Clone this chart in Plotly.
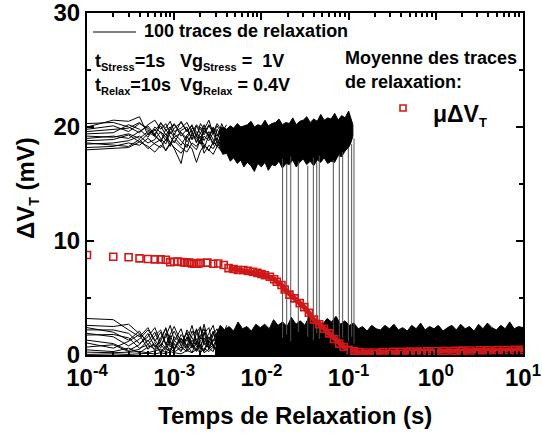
import plotly.graph_objects as go

# ---------------- data ----------------
dt = 1e-4  # sampling period (s)
# early, sparse sample indices of the individual traces: t = n * dt
n_early = [1, 2, 3, 4, 5, 6, 7, 8, 9, 10, 12, 14, 16, 18, 20, 22, 25, 28, 31, 35, 40]

# traces that start in the charged state (~19 mV), values in mV
upper_traces = [
    [19.8, 20.1, 19.6, 20.3, 19.9, 19.2, 20.4, 19.7, 20.0, 19.3, 20.5, 19.6, 20.2, 19.1, 20.3, 19.8, 20.6, 19.4, 20.1, 19.5, 20.2],
    [19.4, 19.5, 20.2, 19.8, 19.1, 20.0, 19.5, 18.8, 19.9, 20.3, 19.2, 19.8, 18.9, 20.1, 19.4, 20.2, 19.0, 19.9, 18.8, 20.3, 19.3],
    [19.0, 19.2, 19.0, 19.6, 20.1, 19.3, 18.7, 19.8, 19.2, 18.6, 19.7, 20.0, 18.9, 19.3, 18.5, 19.9, 19.3, 18.4, 19.8, 19.1, 18.7],
    [18.8, 18.9, 19.3, 18.7, 19.4, 19.8, 19.0, 18.5, 19.6, 19.1, 18.4, 19.3, 19.7, 18.6, 19.5, 18.8, 19.6, 18.9, 18.3, 19.4, 19.0],
    [18.5, 18.6, 18.8, 19.2, 18.6, 18.9, 19.6, 19.1, 18.3, 19.4, 18.8, 18.2, 19.5, 18.7, 19.2, 18.1, 19.3, 18.6, 19.0, 18.2, 19.1],
    [20.3, 20.4, 20.0, 19.5, 20.2, 20.6, 19.8, 20.3, 19.4, 19.9, 20.4, 19.6, 20.1, 19.3, 20.0, 19.5, 20.2, 19.7, 19.2, 20.0, 19.6],
    [19.6, 19.8, 19.9, 20.4, 19.7, 19.4, 20.1, 19.3, 19.8, 20.2, 19.5, 19.0, 19.9, 19.6, 18.9, 19.7, 19.2, 20.0, 19.4, 18.8, 19.6],
    [18.2, 18.3, 18.6, 18.4, 19.0, 18.5, 18.2, 18.9, 18.7, 18.1, 16.8, 19.2, 18.4, 18.0, 18.9, 18.5, 17.9, 18.7, 18.3, 18.8, 18.1],
    [20.0, 20.6, 20.5, 20.9, 19.3, 19.7, 20.3, 19.9, 20.5, 19.6, 19.9, 20.4, 19.5, 20.2, 19.8, 19.3, 20.1, 19.5, 20.3, 19.7, 19.2],
    [18.0, 18.1, 18.2, 18.7, 18.3, 17.8, 18.4, 18.0, 18.6, 18.2, 17.7, 18.5, 18.1, 16.9, 17.9, 18.4, 18.0, 17.6, 18.3, 17.9, 18.5],
    [19.2, 19.1, 19.4, 19.0, 19.6, 19.2, 18.8, 19.4, 18.6, 19.1, 19.5, 18.7, 19.3, 19.0, 18.5, 19.2, 18.8, 19.5, 18.6, 19.3, 18.9],
    [18.6, 18.4, 18.3, 18.9, 18.1, 18.6, 18.9, 17.9, 18.5, 18.8, 18.2, 17.8, 18.6, 18.3, 18.9, 17.7, 18.4, 18.1, 18.7, 17.8, 18.3],
]

# traces that start (nearly) relaxed, values in mV
lower_traces = [
    [3.2, 3.1, 2.2, 1.6, 2.4, 1.2, 2.0, 0.9, 1.8, 2.5, 1.1, 1.9, 0.7, 2.3, 1.4, 2.7, 1.0, 2.1, 0.6, 1.8, 2.4],
    [2.6, 2.5, 2.7, 1.9, 1.2, 2.0, 0.8, 1.6, 2.6, 1.3, 0.6, 2.2, 1.5, 0.9, 2.4, 1.1, 1.9, 2.6, 1.2, 0.8, 1.7],
    [2.4, 2.0, 1.3, 2.1, 0.9, 0.5, 1.5, 2.3, 1.0, 0.4, 1.8, 1.2, 2.6, 1.0, 0.5, 1.9, 2.4, 0.7, 1.6, 2.2, 1.0],
    [2.2, 2.2, 1.9, 1.0, 1.6, 2.4, 1.1, 0.6, 1.4, 2.1, 0.8, 1.5, 0.6, 1.9, 2.5, 0.9, 1.3, 2.0, 0.9, 1.4, 2.6],
    [1.9, 1.6, 0.8, 1.4, 2.2, 1.3, 0.6, 1.9, 0.7, 1.2, 2.3, 0.6, 1.7, 2.2, 0.8, 1.5, 0.6, 1.8, 2.3, 0.7, 1.2],
    [1.75, 1.8, 1.5, 0.6, 0.9, 1.7, 2.2, 1.0, 0.3, 1.6, 1.0, 2.0, 0.9, 0.4, 1.7, 2.3, 0.8, 1.2, 2.0, 1.5, 0.5],
    [1.3, 1.0, 0.4, 0.9, 1.9, 0.7, 1.2, 2.4, 1.3, 0.5, 1.4, 0.8, 2.1, 1.3, 0.7, 0.4, 1.6, 0.9, 0.5, 1.9, 1.3],
    [1.05, 0.6, 1.2, 1.8, 0.5, 1.1, 0.3, 0.8, 1.7, 0.9, 0.3, 1.6, 1.0, 0.5, 1.2, 2.0, 0.5, 1.4, 1.1, 0.4, 1.6],
    [0.7, 0.9, 0.3, 0.5, 1.3, 0.4, 0.9, 0.4, 1.2, 0.6, 1.5, 0.4, 1.3, 0.8, 0.3, 1.1, 0.6, 0.3, 1.5, 1.0, 0.6],
    [0.45, 0.3, 0.6, 0.2, 0.7, 0.9, 0.2, 0.6, 0.3, 1.0, 0.4, 0.9, 0.2, 1.2, 0.6, 0.3, 1.2, 0.8, 0.4, 0.7, 0.9],
    [0.25, 0.2, 0.25, 0.3, 0.2, 0.35, 0.5, 0.2, 0.6, 0.25, 0.7, 0.3, 0.8, 0.3, 0.9, 0.2, 0.5, 0.9, 0.3, 1.1, 0.4],
    [0.05, 0.1, 0.05, 0.1, 0.15, 0.1, 0.2, 0.1, 0.3, 0.2, 0.1, 0.4, 0.2, 0.5, 0.2, 0.6, 0.3, 0.7, 0.2, 0.5, 0.8],
]

# envelope of the dense (noisy) charged-state band, t in s, mV
upper_band_t = [0.0033, 0.0036, 0.0040, 0.0044, 0.0048, 0.0053, 0.0058, 0.0063, 0.0069, 0.0076,
                0.0083, 0.0091, 0.0100, 0.0110, 0.0120, 0.0132, 0.0145, 0.0159, 0.0174, 0.0191,
                0.0209, 0.0229, 0.0251, 0.0275, 0.0302, 0.0331, 0.0363, 0.0398, 0.0437, 0.0479,
                0.0525, 0.0575, 0.0631, 0.0692, 0.0759, 0.0832, 0.0912, 0.1000, 0.1060, 0.1120]
upper_band_top = [19.6, 20.0, 19.8, 20.1, 19.9, 20.3, 20.0, 20.1, 20.2, 20.5,
                  20.0, 20.2, 20.1, 20.6, 20.1, 20.3, 20.4, 20.7, 20.2, 20.4,
                  20.3, 20.8, 20.2, 20.5, 20.6, 20.9, 20.4, 20.7, 20.5, 21.1,
                  20.6, 20.8, 20.7, 21.2, 20.6, 21.0, 20.8, 21.4, 20.7, 20.2]
upper_band_bot = [18.4, 17.6, 17.7, 17.0, 17.3, 16.8, 17.1, 16.5, 16.9, 16.6,
                  16.1, 16.8, 16.5, 16.9, 16.2, 16.7, 16.6, 17.0, 16.4, 16.8,
                  16.7, 17.1, 16.5, 16.9, 17.2, 16.7, 17.0, 16.6, 17.1, 16.9,
                  17.3, 16.8, 17.0, 16.9, 17.5, 17.4, 17.9, 18.2, 18.6, 19.2]

# envelope of the dense relaxed band (filled down to 0), t in s, mV
lower_band_t = [0.0030, 0.00337, 0.00379, 0.00427, 0.0048, 0.0054, 0.00607, 0.00683, 0.00768, 0.00864,
                0.00971, 0.0109, 0.0123, 0.0138, 0.0155, 0.0175, 0.0197, 0.0221, 0.0249, 0.0280,
                0.0315, 0.0354, 0.0398, 0.0448, 0.0504, 0.0567, 0.0637, 0.0717, 0.0806, 0.0907,
                0.102, 0.115, 0.129, 0.145, 0.163, 0.184, 0.207, 0.232, 0.261, 0.294,
                0.331, 0.372, 0.418, 0.471, 0.529, 0.595, 0.670, 0.753, 0.847, 0.953,
                1.07, 1.21, 1.36, 1.53, 1.72, 1.93, 2.17, 2.44, 2.75, 3.09,
                3.48, 3.91, 4.40, 4.95, 5.56, 6.26, 7.04, 7.92, 8.90, 10.0]
lower_band_top = [1.6, 2.6, 2.2, 2.5, 2.1, 2.9, 2.3, 2.5, 2.1, 2.7,
                  2.4, 2.7, 2.3, 3.1, 2.6, 2.9, 2.5, 3.3, 2.7, 3.0,
                  2.6, 3.4, 2.8, 3.1, 2.7, 3.2, 2.9, 3.4, 2.7, 3.0,
                  2.6, 2.8, 2.3, 2.5, 2.1, 2.6, 2.3, 2.2, 2.6, 2.3,
                  2.7, 2.2, 2.4, 2.1, 2.6, 2.3, 2.8, 2.2, 2.5, 2.3,
                  2.6, 2.1, 2.4, 2.6, 2.2, 2.7, 2.3, 2.5, 2.1, 2.7,
                  2.3, 2.8, 2.4, 2.2, 2.6, 2.3, 2.9, 2.3, 2.5, 2.4]

# switching (emission) events: time of the jump and levels before/after (mV)
drop_t = [0.0175, 0.0195, 0.0217, 0.0265, 0.0340, 0.0394, 0.0431, 0.0461,
          0.0668, 0.0782, 0.0855, 0.0993, 0.1084, 0.1153]
drop_hi = [17.2, 16.8, 17.4, 17.0, 16.6, 17.3, 16.9, 17.5, 17.1, 17.6, 17.8, 18.2, 18.5, 19.0]
drop_lo = [1.5, 1.8, 1.2, 2.0, 1.6, 1.3, 1.9, 1.4, 1.7, 1.1, 1.5, 1.2, 1.6, 1.0]

# mean of the traces: first 20 samples at t = n*dt, then selected samples
mean_first = [8.77, 8.62, 8.57, 8.48, 8.42, 8.39, 8.39, 8.36, 8.15, 8.18,
              8.20, 8.16, 8.12, 8.10, 8.10, 8.02, 8.00, 8.00, 8.03, 8.08]
mean_t = [0.0024, 0.0028, 0.0032, 0.0037, 0.0042, 0.0048, 0.0054, 0.0062, 0.0070, 0.0080,
          0.0090, 0.0100, 0.0110, 0.0125, 0.0140, 0.0150, 0.0170, 0.0185, 0.0210, 0.0240,
          0.0275, 0.0310, 0.0350, 0.0400, 0.0460, 0.0520, 0.0600, 0.0680, 0.0780, 0.0880,
          0.100, 0.115, 0.130, 0.160, 0.200, 0.250, 0.320, 0.400, 0.500, 0.630,
          0.800, 1.00, 1.26, 1.60, 2.00, 2.50, 3.20, 4.00, 5.00, 6.30, 8.00, 10.0]
mean_v = [8.10, 8.00, 8.02, 7.90, 7.62, 7.55, 7.46, 7.46, 7.38, 7.30,
          7.20, 7.10, 7.00, 6.87, 6.65, 6.43, 6.14, 5.75, 5.30, 4.97,
          4.55, 4.20, 3.70, 3.10, 2.70, 2.30, 1.90, 1.40, 1.00, 0.70,
          0.45, 0.32, 0.25, 0.22, 0.22, 0.25, 0.27, 0.28, 0.30, 0.30,
          0.32, 0.33, 0.35, 0.37, 0.38, 0.40, 0.42, 0.42, 0.44, 0.44, 0.45, 0.45]

x_tick_vals = [1e-4, 1e-3, 1e-2, 1e-1, 1e0, 1e1]
x_tick_text = ["10<sup>-4</sup>", "10<sup>-3</sup>", "10<sup>-2</sup>",
               "10<sup>-1</sup>", "10<sup>0</sup>", "10<sup>1</sup>"]
y_tick_vals = [0, 10, 20, 30]
y_minor_vals = [5, 15, 25]

# ---------------- figure ----------------
RED = "#d01818"
fig = go.Figure()

t_early = [n * dt for n in n_early]

# dense bands
fig.add_trace(go.Scatter(
    x=lower_band_t + [lower_band_t[-1], lower_band_t[0]],
    y=lower_band_top + [0, 0],
    fill="toself", fillcolor="black", mode="lines",
    line=dict(color="black", width=1), hoverinfo="skip"))
fig.add_trace(go.Scatter(
    x=upper_band_t + upper_band_t[::-1],
    y=upper_band_top + upper_band_bot[::-1],
    fill="toself", fillcolor="black", mode="lines",
    line=dict(color="black", width=1), hoverinfo="skip"))

# individual traces (sparse early part)
for tr in upper_traces + lower_traces:
    fig.add_trace(go.Scatter(x=t_early, y=tr, mode="lines",
                             line=dict(color="black", width=1), hoverinfo="skip"))

# switching events
dx, dy = [], []
for t, hi, lo in zip(drop_t, drop_hi, drop_lo):
    dx += [t, t, None]
    dy += [hi, lo, None]
fig.add_trace(go.Scatter(x=dx, y=dy, mode="lines",
                         line=dict(color="#505050", width=1), hoverinfo="skip"))

# mean trace
mt_all = [(i + 1) * dt for i in range(len(mean_first))] + mean_t
mv_all = mean_first + mean_v
line_t = [t for t in mt_all if t >= 0.004]
line_v = [v for t, v in zip(mt_all, mv_all) if t >= 0.004]
fig.add_trace(go.Scatter(x=line_t, y=line_v, mode="lines",
                         line=dict(color=RED, width=5), hoverinfo="skip"))
fig.add_trace(go.Scatter(x=mt_all, y=mv_all, mode="markers",
                         marker=dict(symbol="square-open", size=7, color=RED,
                                     line=dict(color=RED, width=1.6)),
                         hoverinfo="skip"))

L, R, T, B = 87, 523, 13, 355
W, H = 542, 442


def px(x):
    return (x - L) / (R - L)


def py(y):
    return (B - y) / (B - T)


FONT = "Liberation Sans, Arial, sans-serif"
minor_x = [m * 10 ** e for e in range(-4, 1) for m in range(2, 10)]

fig.update_layout(
    template="none",
    width=W, height=H,
    margin=dict(l=L, r=W - R, t=T, b=H - B, autoexpand=False),
    plot_bgcolor="white", paper_bgcolor="white",
    showlegend=False,
    font=dict(family=FONT, color="black"),
    xaxis=dict(type="log", range=[-4, 1], tickmode="array", automargin=False,
               tickvals=x_tick_vals, ticktext=x_tick_text, ticklabeloverflow="allow",
               ticks="inside", ticklen=7, tickwidth=2, tickcolor="black",
               showline=True, linewidth=2, linecolor="black", mirror="allticks",
               showgrid=False, zeroline=False,
               tickfont=dict(family=FONT, size=24, weight="bold", color="black"),
               minor=dict(tickmode="array", tickvals=minor_x, ticks="inside",
                          ticklen=4, tickwidth=1.5, tickcolor="black", showgrid=False)),
    yaxis=dict(range=[0, 30], tickmode="array", tickvals=y_tick_vals, automargin=False,
               ticklabeloverflow="allow",
               ticks="inside", ticklen=7, tickwidth=2, tickcolor="black",
               showline=True, linewidth=2, linecolor="black", mirror="allticks",
               showgrid=False, zeroline=False,
               tickfont=dict(family=FONT, size=24, weight="bold", color="black"),
               minor=dict(tickmode="array", tickvals=y_minor_vals, ticks="inside",
                          ticklen=4, tickwidth=1.5, tickcolor="black", showgrid=False)),
)


def sub(s):
    return '<sub><span style="font-size:11px">' + s + '</span></sub>'


anns = [
    ("100 traces de relaxation", 142, 31, 18),
    ("t" + sub("Stress") + "=1s", 93, 62, 18),
    ("Vg" + sub("Stress") + " =  1V", 178, 62, 18),
    ("t" + sub("Relax") + "=10s", 93, 86, 18),
    ("Vg" + sub("Relax") + " = 0.4V", 178, 86, 18),
    ("Moyenne des traces", 343, 58, 18),
    ("de relaxation:", 343, 82, 18),
    ("μΔV" + '<sub><span style="font-size:13px">T</span></sub>', 431, 115, 23),
]
for text, x, y, s in anns:
    fig.add_annotation(text=text, x=px(x), y=py(y), xref="paper", yref="paper",
                       xanchor="left", yanchor="middle", showarrow=False,
                       font=dict(family=FONT, size=s, weight="bold", color="black"))

# axis titles
fig.add_annotation(text="Temps de Relaxation (s)", x=px(295), y=py(415),
                   xref="paper", yref="paper", xanchor="center", yanchor="middle",
                   showarrow=False, font=dict(family=FONT, size=24, weight="bold"))
fig.add_annotation(text="ΔV" + '<sub><span style="font-size:14px">T</span></sub>' + " (mV)",
                   x=px(27), y=py(188), textangle=-90,
                   xref="paper", yref="paper", xanchor="center", yanchor="middle",
                   showarrow=False, font=dict(family=FONT, size=24, weight="bold"))

# legend glyphs
fig.add_shape(type="line", xref="paper", yref="paper",
              x0=px(93), x1=px(136), y0=py(32), y1=py(32),
              line=dict(color="black", width=1.2))
fig.add_shape(type="rect", xref="paper", yref="paper",
              xsizemode="pixel", ysizemode="pixel",
              xanchor=px(403), yanchor=py(108), x0=-3, x1=3, y0=-3, y1=3,
              line=dict(color=RED, width=1.6), fillcolor="rgba(0,0,0,0)")

fig.write_html("out.html")
